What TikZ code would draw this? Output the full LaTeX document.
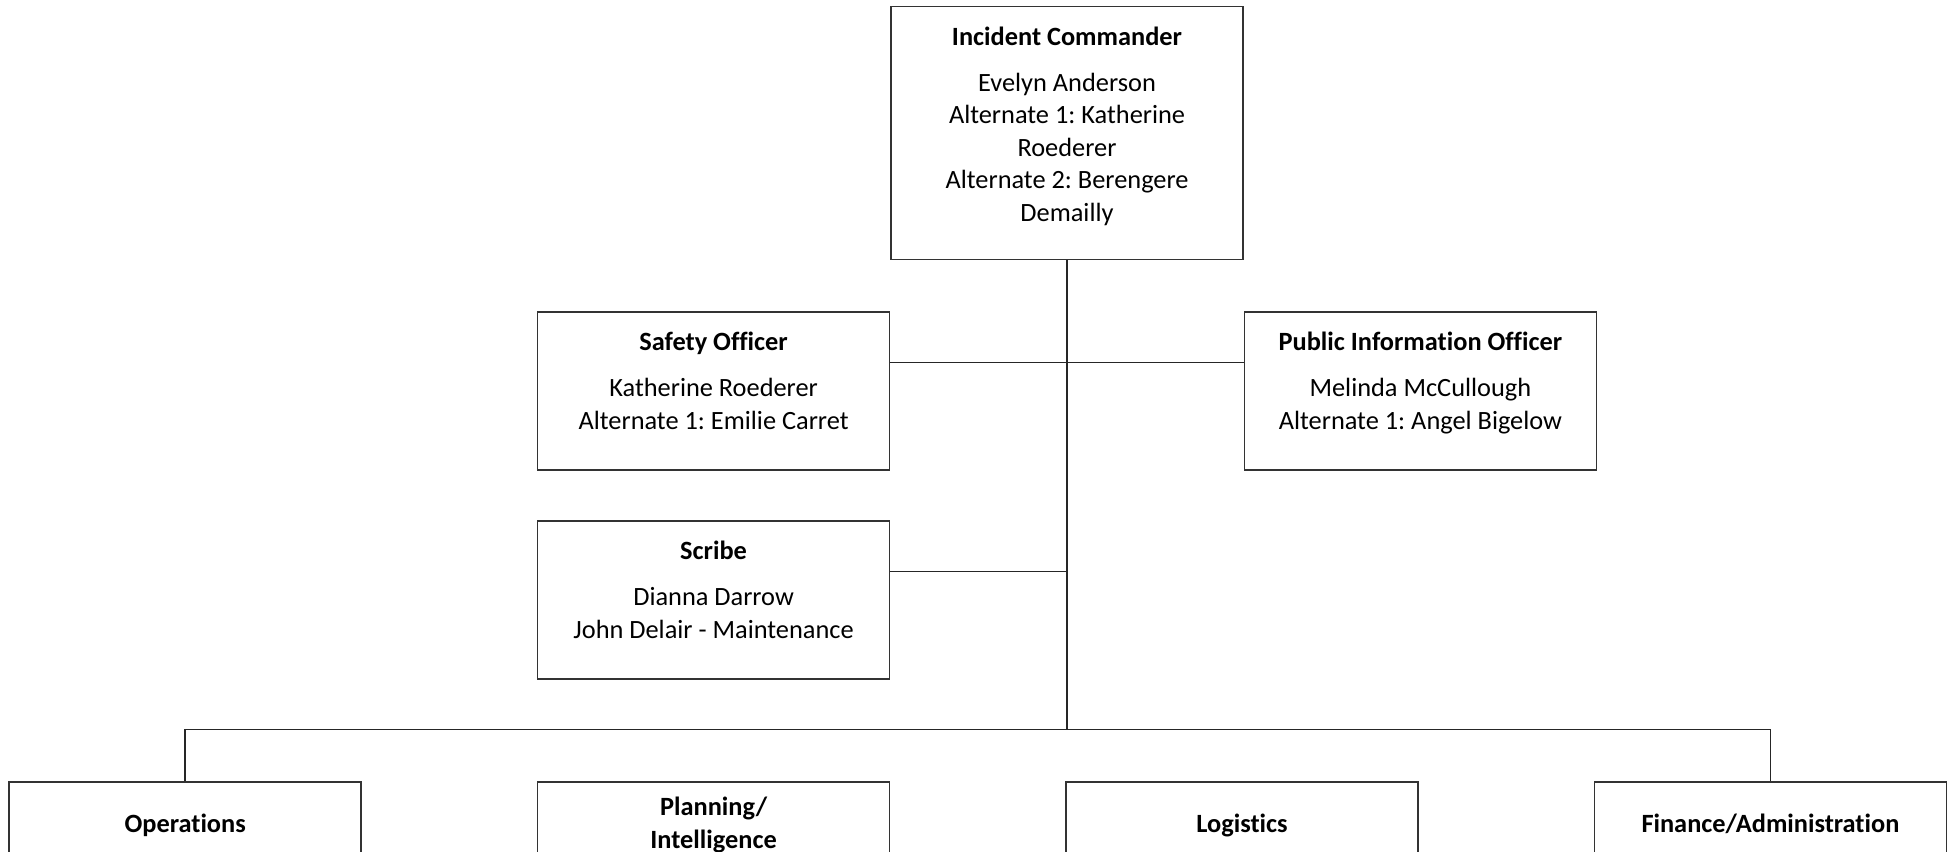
\documentclass[tikz,border=0pt]{standalone}
\usepackage{fontspec}
\setmainfont[Ligatures=NoCommon]{Carlito}
\frenchspacing
\usetikzlibrary{positioning}
\tikzset{
  post/.style={draw=black!80, line width=0.8pt, rectangle, minimum width=7.04cm, minimum height=3.16cm, inner sep=0pt},
  posttext/.style={align=center, inner sep=0pt, font=\fontsize{15}{18.5}\selectfont},
  link/.style={draw=black!85, line width=0.8pt}
}
\begin{document}
\begin{tikzpicture}
\useasboundingbox (0,0) rectangle (39.02,-17.04);
\node (ic) [post, minimum height=5.06cm, anchor=north] at (21.34,-0.12) {};
\node (safety) [post, below left=1.02cm and 0cm of ic.south west] {};
\node (pio) [post, below right=1.02cm and 0cm of ic.south east] {};
\node (scribe) [post, below=0.99cm of safety] {};
\node (plan) [post, below=2.03cm of scribe] {};
\node (ops) [post, left=3.5cm of plan] {};
\node (logi) [post, right=3.5cm of plan] {};
\node (fin) [post, right=3.5cm of logi] {};
\node (ictext) [posttext, below=0.41cm of ic.north] {\textbf{Incident Commander}\\[7.7pt]Evelyn Anderson\\Alternate 1: Katherine\\Roederer\\Alternate 2: Berengere\\Demailly};
\node (safetytext) [posttext, below=0.41cm of safety.north] {\textbf{Safety Officer}\\[7.7pt]Katherine Roederer\\Alternate 1: Emilie Carret};
\node (piotext) [posttext, below=0.41cm of pio.north] {\textbf{Public Information Officer}\\[7.7pt]Melinda McCullough\\Alternate 1: Angel Bigelow};
\node (scribetext) [posttext, below=0.41cm of scribe.north] {\textbf{Scribe}\\[7.7pt]Dianna Darrow\\John Delair - Maintenance};
\node (opstext) [posttext, font=\fontsize{15}{18.5}\selectfont\bfseries, below=0.64cm of ops.north] {Operations};
\node (plantext) [posttext, font=\fontsize{15}{18.5}\selectfont\bfseries, below=0.31cm of plan.north] {Planning/\\Intelligence};
\node (logitext) [posttext, font=\fontsize{15}{18.5}\selectfont\bfseries, below=0.64cm of logi.north] {Logistics};
\node (fintext) [posttext, font=\fontsize{15}{18.5}\selectfont\bfseries, below=0.64cm of fin.north] {Finance/Administration};
\coordinate (safetyport) at ([yshift=-1.02cm]safety.north east);
\coordinate (pioport) at ([yshift=-1.02cm]pio.north west);
\coordinate (scribeport) at ([yshift=-1.02cm]scribe.north east);
\coordinate (bus) at ([yshift=1.03cm]plan.north);
\draw [link] (ic.south) -- (ic.south |- bus);
\draw [link] (safetyport) -- (pioport);
\draw [link] (scribeport) -- (scribeport -| ic.south);
\draw [link] (ops.north) |- (bus) -| (fin.north);
\end{tikzpicture}
\end{document}
